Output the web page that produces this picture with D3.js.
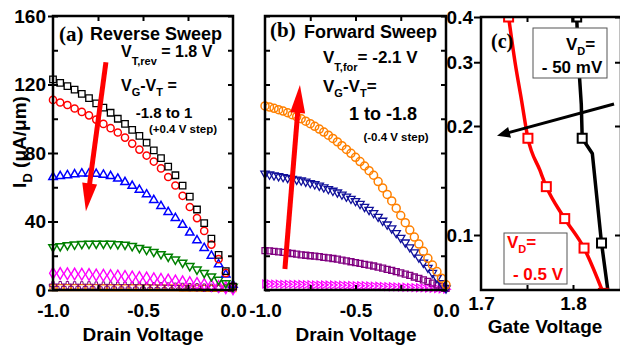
<!DOCTYPE html>
<html>
<head>
<meta charset="utf-8">
<script src="https://cdn.jsdelivr.net/npm/d3@7"></script>
<style>
  body { margin: 0; background: #fff; }
  svg { display: block; }
</style>
</head>
<body>
<svg id="chart" width="620" height="348"></svg>
<script>
// ---------- data ----------
// Reverse sweep: drain voltage grid (V) and drain current (uA/um) per VG-VT step
const vdRev = [-1.00,-0.96,-0.92,-0.88,-0.84,-0.80,-0.76,-0.72,-0.68,-0.64,-0.60,-0.56,-0.52,
               -0.48,-0.44,-0.40,-0.36,-0.32,-0.28,-0.24,-0.20,-0.16,-0.12,-0.08,-0.04,0.00];
const revM18 = [123,121,119,117,114.5,112,109,106.5,103.5,100,97,93.5,90,86,81.5,77,72,67,61,54.5,47,39,30,20.5,11,2];
const revM14 = [111,109.5,108,106,104,102,99.5,97,94.5,92,89,85.5,82,78.5,75,71,66,61,55,48.5,42,34.5,26.5,18,10,2];
const revM10 = [66,66.5,67,67.5,68,68,67.8,67.3,66.5,65,63,60.8,58.5,55.8,52.5,49,45.5,42,38,33.5,29,24.5,20,15,9,3];
const revM06 = [25,25.6,26.2,26.6,26.9,27,27.1,27.1,27,26.8,26.5,25.7,24.6,23.5,22.3,21,19.5,17.8,16,14,12,10,8,6,4,2];
const revM02 = [9.8,9.6,9.5,9.3,9.2,9.0,8.8,8.6,8.4,8.2,7.9,7.6,7.3,7.0,6.6,6.2,5.8,5.3,4.8,4.3,3.8,3.2,2.6,2.0,1.4,0.8];
const revP02 = [2.8,2.8,2.8,2.7,2.7,2.7,2.6,2.6,2.6,2.5,2.5,2.4,2.4,2.3,2.2,2.1,2.0,1.9,1.8,1.7,1.6,1.4,1.3,1.1,1.0,0.8];
const revP06 = [1.4,1.4,1.4,1.4,1.4,1.4,1.4,1.3,1.3,1.3,1.3,1.3,1.3,1.3,1.2,1.2,1.2,1.2,1.1,1.1,1.1,1.0,1.0,0.9,0.9,0.8];

// Forward sweep
const vdFwd = [-1.000,-0.975,-0.950,-0.925,-0.900,-0.875,-0.850,-0.825,-0.800,-0.775,-0.750,-0.725,-0.700,-0.675,
               -0.650,-0.625,-0.600,-0.575,-0.550,-0.525,-0.500,-0.475,-0.450,-0.425,-0.400,-0.375,-0.350,-0.325,
               -0.300,-0.275,-0.250,-0.225,-0.200,-0.175,-0.150,-0.125,-0.100,-0.075,-0.050,-0.025,0.000];
const fwdM18 = [107.5,106.8,106.1,105.3,104.5,103.5,102.4,101.2,100,98.6,97.1,95.6,94,92.2,90.4,88.5,86.5,84.3,82.1,79.8,
                77.5,75,72.4,69.7,67,63.3,59.6,55.8,52,47.8,43.5,39.3,35,30.9,26.8,22.6,18.5,14.6,10.8,6.9,3];
const fwdM14 = [68,67.5,67,66.5,66,65.5,65,64.5,64,63.3,62.5,61.8,61,60,59,58,57,55.8,54.6,53.3,
                52,50.3,48.6,46.8,45,42.8,40.5,38.3,36,33.3,30.5,27.8,25,22,19,16,13,10,7,4,1];
const fwdM10 = [23,22.8,22.5,22.3,22,21.6,21.3,20.9,20.5,20.3,20,19.8,19.5,19.1,18.8,18.4,18,17.5,17,16.5,
                16,15.5,15,14.5,14,13.4,12.8,12.1,11.5,10.7,10,9.3,8.5,7.6,6.8,5.9,5,4,3,2,1];
const fwdM06 = [3.5,3.5,3.4,3.4,3.3,3.3,3.3,3.2,3.2,3.1,3.1,3.0,3.0,3.0,2.9,2.9,2.8,2.8,2.7,2.7,
                2.6,2.5,2.5,2.4,2.3,2.2,2.1,2.0,1.9,1.8,1.7,1.6,1.5,1.4,1.3,1.2,1.1,1.0,0.8,0.7,0.5];

// Transfer curves, drain current (uA/um) vs gate voltage (V)
const vgLow  = [1.804,1.806,1.809,1.810,1.821,1.831,1.838];      // VD = -50 mV
const idLow  = [0.40,0.30,0.23,0.185,0.168,0.095,0.070];
const markLow = [true,false,false,true,false,true,false];
const vgHigh = [1.730,1.737,1.744,1.751,1.764,1.771,1.791,1.812,1.833];  // VD = -0.5 V
const idHigh = [0.40,0.30,0.236,0.185,0.151,0.136,0.111,0.092,0.069];
const markHigh = [true,false,false,true,false,true,true,true,true];

// tick values and labels
const idTicks = [0,40,80,120,160];
const idTickLabels = ['0','40','80','120','160'];
const idMinor = [0,20,40,60,80,100,120,140,160];
const vdTicks = [-1,-0.5,0];
const vdTickLabels = ['-1.0','-0.5','0.0'];
const vdMinor = [-0.75,-0.5,-0.25];
const vgTicks = [1.7,1.8];
const vgTickLabels = ['1.7','1.8'];
const vgMinor = [1.75,1.8];
const logTicks = [0.1,0.2,0.3,0.4];
const logTickLabels = ['0.1','0.2','0.3','0.4'];

// ---------- layout ----------
const SANS = '"Liberation Sans", Arial, Helvetica, sans-serif';
const SERIF = '"Liberation Serif", "Times New Roman", serif';
const svg = d3.select('#chart');

const A = {x0:53, x1:233, y0:16, y1:290};
const B = {x0:265, x1:446, y0:16, y1:290};
const C = {x0:481, x1:621, y0:17, y1:290};

const xA = d3.scaleLinear().domain([-1,0]).range([A.x0,A.x1]);
const yA = d3.scaleLinear().domain([0,160]).range([A.y1,A.y0]);
const xB = d3.scaleLinear().domain([-1,0]).range([B.x0,B.x1]);
const yB = d3.scaleLinear().domain([0,160]).range([B.y1,B.y0]);
const xC = d3.scaleLinear().domain([1.7,1.8]).range([481,573]);
const yC = d3.scaleLog().domain([0.1,0.4]).range([235,17]);

// ---------- helpers ----------
const shapes = {
  square:  [d3.symbolSquare, 0],
  circle:  [d3.symbolCircle, 0],
  up:      [d3.symbolTriangle, 0],
  down:    [d3.symbolTriangle, 180],
  diamond: [d3.symbolDiamond, 0],
  right:   [d3.symbolTriangle, 90],
  plus:    [d3.symbolCross, 0]
};

function series(xs, ys, xs_, ys_, color, shape, size, sw) {
  const [type, rot] = shapes[shape];
  const sym = d3.symbol().type(type).size(size);
  svg.append('g').selectAll('path')
    .data(xs.map((v, i) => [v, ys[i]]))
    .join('path')
    .attr('d', sym)
    .attr('transform', d => `translate(${xs_(d[0])},${ys_(d[1])}) rotate(${rot})`)
    .attr('fill', 'none')
    .attr('stroke', color)
    .attr('stroke-width', sw);
}

function axis(gen, tx, ty, values, size, labels, pad, fs) {
  gen.tickValues(values).tickSize(size).tickPadding(pad || 2)
     .tickFormat(labels ? (d, i) => labels[i] : () => '');
  const g = svg.append('g').attr('transform', `translate(${tx},${ty})`).call(gen);
  g.attr('font-family', SANS).attr('font-size', fs || 19).attr('font-weight', 'bold');
  g.select('.domain').remove();
  g.selectAll('line').attr('stroke', '#000').attr('stroke-width', 2);
  g.selectAll('text').attr('fill', '#000');
  return g;
}

function frame(P) {
  svg.append('rect').attr('x', P.x0).attr('y', P.y0)
    .attr('width', P.x1 - P.x0).attr('height', P.y1 - P.y0)
    .attr('fill', 'none').attr('stroke', '#000').attr('stroke-width', 2.5);
}

// text with subscripts: parts = [[text, isSub], ...]
function richText(x, y, parts, size, subSize, shift, opts = {}) {
  const t = svg.append('text').attr('x', x).attr('y', y)
    .attr('font-family', opts.family || SANS).attr('font-weight', 'bold')
    .attr('font-size', size).attr('fill', opts.color || '#000')
    .attr('text-anchor', opts.anchor || 'start');
  if (opts.transform) t.attr('transform', opts.transform);
  let down = false;
  parts.forEach(([s, sub]) => {
    const sp = t.append('tspan').text(s);
    if (sub && !down) { sp.attr('dy', shift).attr('font-size', subSize); down = true; }
    else if (sub) { sp.attr('font-size', subSize); }
    else if (down) { sp.attr('dy', -shift); down = false; }
  });
  return t;
}

function arrow(x1, y1, x2, y2, color, width, headLen, headW) {
  const dx = x2 - x1, dy = y2 - y1, L = Math.hypot(dx, dy);
  const ux = dx / L, uy = dy / L, px = -uy, py = ux;
  const bx = x2 - ux * headLen, by = y2 - uy * headLen;
  svg.append('line').attr('x1', x1).attr('y1', y1)
    .attr('x2', bx + ux * 1).attr('y2', by + uy * 1)
    .attr('stroke', color).attr('stroke-width', width);
  svg.append('path')
    .attr('d', `M${x2},${y2}L${bx + px * headW / 2},${by + py * headW / 2}L${bx - px * headW / 2},${by - py * headW / 2}Z`)
    .attr('fill', color);
}

// ---------- panel (a): reverse sweep ----------
series(vdRev, revP06, xA, yA, '#ff8000', 'square', 36, 1.3);
series(vdRev, revP02, xA, yA, '#800080', 'plus', 30, 1.0);
series(vdRev, revM02, xA, yA, '#ff00ff', 'diamond', 40, 1.4);
series(vdRev, revM06, xA, yA, '#008000', 'down', 30, 1.5);
series(vdRev, revM10, xA, yA, '#0000ff', 'up', 30, 1.5);
series(vdRev, revM14, xA, yA, '#ff0000', 'circle', 40, 1.5);
series(vdRev, revM18, xA, yA, '#000000', 'square', 42, 1.3);

axis(d3.axisLeft(yA), A.x0, 0, idTicks, 5, idTickLabels, 2);
axis(d3.axisLeft(yA), A.x0, 0, idMinor, -5);
axis(d3.axisRight(yA), A.x1, 0, idMinor, -5);
axis(d3.axisTop(xA), 0, A.y0, vdMinor, -5);
axis(d3.axisBottom(xA), 0, A.y1, vdMinor, -5);
axis(d3.axisBottom(xA), 0, A.y1, vdTicks, 0, vdTickLabels, 14);
frame(A);

arrow(xA(-0.706), yA(133), xA(-0.817), yA(46), '#ff0000', 5, 28, 15);

richText(59, 41, [['(a)']], 21, 21, 0, {family: SERIF});
richText(90, 40, [['Reverse Sweep']], 18, 18, 0);
richText(121, 57, [['V'], ['T,rev', true], [' = 1.8 V']], 16, 11, 8);
richText(121, 91, [['V'], ['G', true], ['-V'], ['T', true], [' =']], 16, 11, 5);
richText(164, 118, [['-1.8 to 1']], 15, 15, 0, {anchor: 'middle'});
richText(183, 133, [['(+0.4 V step)']], 11.5, 11.5, 0, {anchor: 'middle'});

// ---------- panel (b): forward sweep ----------
series(vdFwd, fwdM06, xB, yB, '#ff00ff', 'right', 26, 1.2);
series(vdFwd, fwdM10, xB, yB, '#800080', 'square', 36, 1.3);
series(vdFwd, fwdM14, xB, yB, '#10109a', 'down', 30, 1.3);
series(vdFwd, fwdM18, xB, yB, '#ff8000', 'circle', 50, 1.5);

axis(d3.axisLeft(yB), B.x0, 0, idMinor, -5);
axis(d3.axisRight(yB), B.x1, 0, idMinor, -5);
axis(d3.axisTop(xB), 0, B.y0, vdMinor, -5);
axis(d3.axisBottom(xB), 0, B.y1, vdMinor, -5);
axis(d3.axisBottom(xB), 0, B.y1, vdTicks, 0, vdTickLabels, 14);
frame(B);

arrow(xB(-0.89), yB(12.3), xB(-0.807), yB(119.7), '#ff0000', 5, 28, 15);

richText(270, 37, [['(b)']], 21, 21, 0, {family: SERIF});
richText(304, 38, [['Forward Sweep']], 18, 18, 0);
richText(323, 63, [['V'], ['T,for', true], ['= -2.1 V']], 17, 11, 8);
richText(323, 92, [['V'], ['G', true], ['-V'], ['T', true], ['=']], 17, 11, 5);
richText(383, 120, [['1 to -1.8']], 18, 18, 0, {anchor: 'middle'});
richText(396, 141, [['(-0.4 V step)']], 11.5, 11.5, 0, {anchor: 'middle'});

// ---------- panel (c): transfer curves ----------
const clip = svg.append('clipPath').attr('id', 'clipC');
clip.append('rect').attr('x', C.x0).attr('y', C.y0).attr('width', C.x1 - C.x0).attr('height', C.y1 - C.y0);
const gc = svg.append('g').attr('clip-path', 'url(#clipC)');

function transfer(vg, id, marks, color, curve) {
  const line = d3.line().x(d => xC(d[0])).y(d => yC(d[1])).curve(curve);
  const pts = vg.map((v, i) => [v, id[i], marks[i]]);
  gc.append('path').attr('d', line(pts)).attr('fill', 'none')
    .attr('stroke', color).attr('stroke-width', 3.5).attr('stroke-linejoin', 'round');
  gc.append('g').selectAll('rect').data(pts.filter(p => p[2])).join('rect')
    .attr('x', d => xC(d[0]) - 4.5).attr('y', d => yC(d[1]) - 4.5)
    .attr('width', 9).attr('height', 9)
    .attr('fill', '#fff').attr('stroke', color).attr('stroke-width', 2);
}
transfer(vgLow, idLow, markLow, '#000000', d3.curveLinear);
transfer(vgHigh, idHigh, markHigh, '#ff0000', d3.curveMonotoneX);

axis(d3.axisLeft(yC), C.x0, 0, logTicks, 7, logTickLabels, 1);
axis(d3.axisRight(yC), C.x1, 0, logTicks, -6);
axis(d3.axisTop(xC), 0, C.y0, vgMinor, -5);
axis(d3.axisBottom(xC), 0, C.y1, vgMinor, -5);
axis(d3.axisBottom(xC), 0, C.y1, vgTicks, 0, vgTickLabels, 7);
frame(C);

arrow(xC(1.8446), yC(0.23), xC(1.7174), yC(0.188), '#000000', 3, 13, 11);

richText(491, 48, [['(c)']], 20, 20, 0, {family: SERIF});

svg.append('rect').attr('x', 533).attr('y', 28).attr('width', 74).attr('height', 50)
  .attr('fill', '#fff').attr('stroke', '#555').attr('stroke-width', 1);
richText(566, 50, [['V'], ['D', true], ['=']], 17, 11, 5);
richText(572, 73, [['- 50 mV']], 17, 17, 0, {anchor: 'middle'});

svg.append('rect').attr('x', 504).attr('y', 233).attr('width', 63).attr('height', 51)
  .attr('fill', '#fff').attr('stroke', '#555').attr('stroke-width', 1);
richText(507, 248, [['V'], ['D', true], ['=']], 17, 11, 5, {color: '#ff0000'});
richText(538, 280, [['- 0.5 V']], 17, 17, 0, {color: '#ff0000', anchor: 'middle'});

// ---------- axis titles ----------
richText(0, 0, [['I'], ['D', true], [' (\u03bcA/\u03bcm)', false]], 19, 13, 6,
  {anchor: 'middle', transform: 'translate(26,142) rotate(-90)'});
richText(143, 341, [['Drain Voltage']], 19, 19, 0, {anchor: 'middle'});
richText(356, 341, [['Drain Voltage']], 19, 19, 0, {anchor: 'middle'});
richText(545, 333, [['Gate Voltage']], 19, 19, 0, {anchor: 'middle'});
</script>
</body>
</html>
